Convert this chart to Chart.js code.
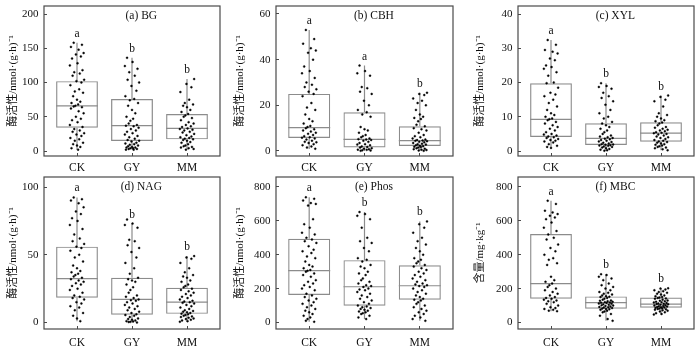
<!DOCTYPE html>
<html>
<head>
<meta charset="utf-8">
<script src="https://cdn.jsdelivr.net/npm/chart.js@4.4.0/dist/chart.umd.min.js"></script>
<style>
  body { margin: 0; background: #fff; width: 700px; height: 349px; position: relative; overflow: hidden; }
  canvas { position: absolute; }
</style>
</head>
<body>
<canvas id="pa" width="230" height="172" style="left:0;top:0"></canvas>
<canvas id="pb" width="230" height="172" style="left:230px;top:0"></canvas>
<canvas id="pc" width="240" height="172" style="left:460px;top:0"></canvas>
<canvas id="pd" width="230" height="179" style="left:0;top:170px"></canvas>
<canvas id="pe" width="230" height="179" style="left:230px;top:170px"></canvas>
<canvas id="pf" width="240" height="179" style="left:460px;top:170px"></canvas>
<script>
// Box plots with jittered samples, six panels

const GROUPS = ['CK', 'GY', 'MM'];

// (a) BG
const bgCK = [158, 155, 152, 148, 143, 141, 138, 135, 128, 125, 118, 115, 113, 110, 104, 102, 100, 96, 90, 87, 85, 80, 75, 72, 70, 68, 66, 65, 64, 62, 58, 55, 50, 47, 45, 42, 38, 35, 32, 30, 28, 26, 24, 22, 19, 17, 15, 12, 10, 8, 6, 4, 2];
const bgGY = [136, 130, 124, 120, 115, 110, 104, 100, 95, 88, 80, 76, 74, 70, 66, 60, 55, 50, 47, 44, 40, 38, 37, 36, 34, 32, 30, 28, 26, 24, 22, 20, 18, 16, 15, 14, 12, 11, 10, 9, 8, 7, 6, 5, 5, 4, 4, 3, 3, 2, 2];
const bgMM = [105, 98, 93, 86, 75, 70, 68, 66, 64, 60, 57, 54, 52, 50, 48, 45, 42, 40, 38, 36, 35, 33, 32, 31, 30, 28, 27, 25, 23, 21, 20, 19, 18, 17, 16, 15, 13, 12, 10, 8, 7, 6, 5, 4, 3, 2];
const bgQ1 = [34, 14.5, 17];
const bgMed = [66, 37, 33];
const bgQ3 = [102, 76, 54];
const bgLo = [2, 2, 2];
const bgHi = [158, 136, 105];
const bgSig = ['a', 'b', 'b'];
const bgTicks = [0, 50, 100, 150, 200];

// (b) CBH
const cbhCK = [53, 49, 47, 45, 44, 43, 40, 37, 35, 34, 32, 30, 29, 28, 27, 26, 25, 24, 21, 19, 18, 16, 14, 13, 12, 11, 10.5, 10, 9.5, 9, 8.5, 8, 7.5, 7, 6.5, 6, 5.8, 5.5, 5, 4.5, 4, 3.8, 3.5, 3, 2.5, 2, 1.5, 1];
const cbhGY = [37.4, 35, 34, 33, 28, 27.5, 26, 25, 22, 20, 18, 17, 16, 15, 10.5, 9.5, 9, 8, 7, 6.5, 6, 5.5, 5.2, 5, 4.8, 4.5, 4, 3.5, 3, 2.8, 2.5, 2, 1.8, 1.5, 1.2, 1, 0.8, 0.6, 0.5, 0.3, 0.2, 0.1];
const cbhMM = [25.5, 25, 24.5, 23, 22, 21, 20, 18, 16, 15, 14.5, 14, 13, 11.5, 10.8, 10, 9.5, 9, 8, 7, 6.5, 6, 5.5, 5, 4.8, 4.6, 4.5, 4.3, 4, 3.8, 3.5, 3.2, 3, 2.8, 2.5, 2.3, 2.1, 1.9, 1.7, 1.5, 1.2, 1, 0.8, 0.6, 0.4, 0.2, 0.1];
const cbhQ1 = [5.7, 1.5, 2.2];
const cbhMed = [10.2, 5.1, 4.5];
const cbhQ3 = [25, 17, 10.8];
const cbhLo = [0.9, 0, 0.1];
const cbhHi = [53, 37.4, 25.5];
const cbhSig = ['a', 'a', 'b'];
const cbhTicks = [0, 20, 40, 60];

// (c) XYL
const xylCK = [32.4, 31, 29.5, 29, 28.5, 27, 26.5, 25, 24.5, 24, 23, 22, 20, 19.8, 18.5, 17, 16.5, 16, 15, 14, 13, 12, 11, 10.5, 10, 9.5, 9.3, 9, 8.5, 8, 7.5, 7, 6.5, 6, 5.5, 5, 4.8, 4.5, 4.2, 4, 3.8, 3.5, 3.2, 3, 2.8, 2.5, 2, 1.5, 1.2, 0.9];
const xylGY = [19.8, 19, 18.7, 18.2, 17, 16, 15.5, 14.5, 13.5, 12, 11, 10, 9.5, 8.5, 8, 7.5, 7, 6.5, 6, 5.5, 5, 4.5, 4.2, 4, 3.8, 3.6, 3.4, 3.2, 3, 2.8, 2.6, 2.4, 2.2, 2, 1.9, 1.8, 1.7, 1.6, 1.5, 1.3, 1.2, 1, 0.8, 0.6, 0.4, 0.2, 0.1];
const xylMM = [16.2, 15.8, 15, 14.5, 13, 11, 10.5, 10, 9.5, 9, 8.7, 8.3, 8, 7.5, 7, 6.8, 6.5, 6.2, 6, 5.8, 5.5, 5.3, 5.2, 5, 4.8, 4.5, 4.2, 4, 3.8, 3.5, 3.2, 3, 2.8, 2.6, 2.4, 2.2, 2, 1.8, 1.6, 1.4, 1.2, 1, 0.8, 0.5, 0.2];
const xylQ1 = [4.1, 1.75, 2.7];
const xylMed = [9.25, 3.7, 5.2];
const xylQ3 = [19.8, 8.1, 8.4];
const xylLo = [0.9, 0.1, 0.2];
const xylHi = [32.4, 19.8, 16.2];
const xylSig = ['a', 'b', 'b'];
const xylTicks = [0, 10, 20, 30, 40];

// (d) NAG
const nagCK = [92.3, 91, 90, 88, 85, 82, 80, 77, 75, 72, 69, 65, 62, 60, 58, 56, 55, 53, 50, 48, 45, 42, 40, 38, 37, 36, 35, 34, 33, 32, 31, 30, 29, 28, 27, 25, 24, 22, 20, 19, 18, 17, 15, 14, 12, 11, 9, 7, 5, 3, 1];
const nagGY = [76, 73, 72, 70, 61, 60, 57, 55, 52, 48, 44, 40, 36, 33, 32, 31, 30, 28, 26, 24, 22, 20, 19, 18, 17, 16.5, 16, 15, 14, 13, 12, 11, 10, 9, 8, 7, 6, 5.5, 5, 4, 3, 2.5, 2, 1.5, 1, 0.8, 0.5, 0.3, 0];
const nagMM = [49, 48, 47, 44, 40, 37, 35, 34, 33, 31, 30, 28, 27, 26, 25, 24, 23, 22, 21, 20, 19, 18, 17, 16, 15.5, 15, 14.5, 14, 13, 12, 11, 10, 9, 8.5, 8, 7.5, 7, 6.5, 6, 5.5, 5, 4.5, 4, 3.5, 3, 2.5, 2, 1.5, 1, 0.5];
const nagQ1 = [18.3, 5.7, 6.4];
const nagMed = [32.4, 17, 15];
const nagQ3 = [56, 33, 25.7];
const nagLo = [1, 0, 0.5];
const nagHi = [92.3, 73, 49];
const nagSig = ['a', 'b', 'b'];
const nagTicks = [0, 50, 100];

// (e) Phos
const phosCK = [739, 730, 720, 705, 700, 690, 610, 580, 560, 530, 520, 500, 490, 480, 470, 450, 430, 420, 410, 390, 380, 360, 340, 330, 320, 310, 305, 300, 290, 280, 270, 250, 240, 230, 220, 210, 200, 190, 170, 160, 150, 140, 130, 120, 110, 100, 90, 80, 70, 60, 50, 40, 30, 20, 10, 4];
const phosGY = [652, 640, 630, 610, 560, 500, 480, 470, 440, 420, 380, 370, 360, 340, 330, 320, 300, 290, 280, 260, 250, 240, 230, 220, 215, 210, 200, 195, 190, 180, 170, 160, 150, 140, 130, 120, 110, 100, 95, 90, 85, 80, 75, 70, 65, 60, 55, 50, 40, 30, 20];
const phosMM = [597, 580, 560, 530, 500, 480, 460, 440, 420, 400, 380, 370, 360, 350, 340, 330, 320, 310, 300, 290, 280, 270, 260, 250, 240, 230, 225, 220, 215, 210, 200, 190, 180, 170, 160, 150, 140, 135, 130, 120, 110, 100, 90, 80, 70, 60, 50, 40, 30, 20, 10];
const phosQ1 = [162, 99, 134];
const phosMed = [306, 211, 217];
const phosQ3 = [494, 368, 338];
const phosLo = [4, 20, 10];
const phosHi = [739, 652, 597];
const phosSig = ['a', 'b', 'b'];
const phosTicks = [0, 200, 400, 600, 800];

// (f) MBC
const mbcCK = [719, 700, 660, 650, 640, 630, 620, 610, 590, 560, 540, 520, 500, 490, 460, 440, 420, 400, 380, 370, 350, 340, 270, 250, 240, 230, 220, 210, 200, 190, 180, 170, 160, 150, 145, 140, 135, 130, 125, 120, 110, 100, 90, 85, 80, 75, 70, 67];
const mbcGY = [285, 280, 270, 260, 250, 230, 220, 210, 200, 190, 180, 175, 170, 165, 160, 155, 152, 150, 145, 140, 135, 130, 128, 125, 122, 120, 118, 117, 115, 112, 110, 108, 105, 102, 100, 98, 95, 92, 90, 88, 85, 82, 80, 78, 75, 70, 65, 60, 50, 40, 20, 10];
const mbcMM = [202, 200, 195, 190, 185, 180, 175, 170, 165, 160, 155, 150, 148, 145, 142, 140, 135, 130, 128, 125, 122, 120, 118, 115, 112, 110, 109, 108, 105, 102, 100, 98, 96, 94, 92, 90, 88, 86, 84, 82, 80, 78, 75, 72, 70, 65, 60, 55, 50, 47];
const mbcQ1 = [140, 81, 87];
const mbcMed = [229, 117, 109];
const mbcQ3 = [522, 154, 148];
const mbcLo = [67, 10, 47];
const mbcHi = [719, 285, 202];
const mbcSig = ['a', 'b', 'b'];
const mbcTicks = [0, 200, 400, 600, 800];

const ENZ_TITLE = '酶活性/nmol·(g·h)⁻¹';
const MBC_TITLE = '含量/mg·kg⁻¹';

// horizontal scatter of the dots around each box centre
const JITTER = [-0.06, 0.09, -0.11, 0.03, 0.12, -0.02, 0.07, -0.09, 0.01, -0.13, 0.1, -0.05, 0.05, -0.08, 0.13, -0.01, 0.08, -0.12, 0.04, -0.04, 0.11, -0.07, 0.0, 0.06, -0.1, 0.02, -0.03];

const SERIF = "'Liberation Serif', 'Times New Roman', 'Noto Sans CJK SC', serif";
const BOX_COLOR = '#8c8c8c';
const FRAME_COLOR = '#4a4a4a';

const panels = [
    { id: 'pa', title: '(a) BG', yTitle: ENZ_TITLE, pts: [bgCK, bgGY, bgMM], q1: bgQ1, med: bgMed, q3: bgQ3, lo: bgLo, hi: bgHi, sig: bgSig, ticks: bgTicks, min: -7.3, max: 211.7 },
    { id: 'pb', title: '(b) CBH', yTitle: ENZ_TITLE, pts: [cbhCK, cbhGY, cbhMM], q1: cbhQ1, med: cbhMed, q3: cbhQ3, lo: cbhLo, hi: cbhHi, sig: cbhSig, ticks: cbhTicks, min: -2.19, max: 63.5 },
    { id: 'pc', title: '(c) XYL', yTitle: ENZ_TITLE, pts: [xylCK, xylGY, xylMM], q1: xylQ1, med: xylMed, q3: xylQ3, lo: xylLo, hi: xylHi, sig: xylSig, ticks: xylTicks, min: -1.46, max: 42.34 },
    { id: 'pd', title: '(d) NAG', yTitle: ENZ_TITLE, pts: [nagCK, nagGY, nagMM], q1: nagQ1, med: nagMed, q3: nagQ3, lo: nagLo, hi: nagHi, sig: nagSig, ticks: nagTicks, min: -4.8, max: 107.4 },
    { id: 'pe', title: '(e) Phos', yTitle: ENZ_TITLE, pts: [phosCK, phosGY, phosMM], q1: phosQ1, med: phosMed, q3: phosQ3, lo: phosLo, hi: phosHi, sig: phosSig, ticks: phosTicks, min: -38.4, max: 859 },
    { id: 'pf', title: '(f) MBC', yTitle: MBC_TITLE, pts: [mbcCK, mbcGY, mbcMM], q1: mbcQ1, med: mbcMed, q3: mbcQ3, lo: mbcLo, hi: mbcHi, sig: mbcSig, ticks: mbcTicks, min: -38.4, max: 859 }
];

// per panel: y axis width, right pad, top pad, x axis height, y-title offset, x label pad
const layouts = [
    [44, 10, 6, 16, 6.4, 8],
    [46, 7, 6, 16, 3.4, 8],
    [58, 6, 6, 16, 13.4, 8],
    [44, 10, 7, 20, 6.4, 10],
    [46, 7, 7, 20, 3.4, 10],
    [58, 6, 7, 20, 13.4, 10]
];

function extrasPlugin(p) {
    return {
        id: 'boxExtras',
        beforeDatasetsDraw(chart) {
            const { ctx, scales: { x, y } } = chart;
            const bars = chart.getDatasetMeta(0).data;
            ctx.save();
            ctx.strokeStyle = BOX_COLOR;
            ctx.lineWidth = 1.2;
            GROUPS.forEach((g, i) => {
                const cx = x.getPixelForValue(i);
                const b = bars[i].getProps(['x', 'width'], true);
                const ym = y.getPixelForValue(p.med[i]);
                ctx.beginPath();
                ctx.moveTo(cx, y.getPixelForValue(p.q3[i]));
                ctx.lineTo(cx, y.getPixelForValue(p.hi[i]));
                ctx.moveTo(cx, y.getPixelForValue(p.q1[i]));
                ctx.lineTo(cx, y.getPixelForValue(p.lo[i]));
                ctx.moveTo(b.x - b.width / 2, ym);
                ctx.lineTo(b.x + b.width / 2, ym);
                ctx.stroke();
            });
            ctx.restore();
        },
        afterDraw(chart) {
            const { ctx, chartArea: a, scales: { x, y } } = chart;
            ctx.save();
            ctx.strokeStyle = FRAME_COLOR;
            ctx.lineWidth = 1.2;
            ctx.strokeRect(a.left, a.top, a.right - a.left, a.bottom - a.top);
            ctx.fillStyle = '#111';
            ctx.font = '11.5px ' + SERIF;
            ctx.textAlign = 'center';
            ctx.textBaseline = 'middle';
            GROUPS.forEach((g, i) => {
                ctx.fillText(p.sig[i], x.getPixelForValue(i), y.getPixelForValue(p.hi[i]) - 9);
            });
            ctx.fillText(p.title, x.getPixelForValue(1.17), a.top + 10);
            ctx.restore();
        }
    };
}

Chart.defaults.font.family = SERIF;
Chart.defaults.color = '#111';

panels.forEach((p, k) => {
    const [yw, padR, padT, xh, titlePad, xPad] = layouts[k];
    const boxData = GROUPS.map((g, i) => ({ x: i, y: [p.q1[i], p.q3[i]] }));
    const dots = p.pts.flatMap((arr, g) =>
        arr.map((v, i) => ({ x: g + JITTER[(i + g * 7) % JITTER.length], y: v })));

    new Chart(document.getElementById(p.id), {
        type: 'bar',
        data: {
            datasets: [
                {
                    type: 'bar',
                    data: boxData,
                    backgroundColor: 'rgba(0,0,0,0)',
                    borderColor: BOX_COLOR,
                    borderWidth: 1.2,
                    borderSkipped: false,
                    barPercentage: 0.76,
                    categoryPercentage: 1,
                    order: 2
                },
                {
                    type: 'scatter',
                    data: dots,
                    pointRadius: 1,
                    pointBackgroundColor: '#000',
                    pointBorderColor: '#000',
                    pointBorderWidth: 0.4,
                    order: 1
                }
            ]
        },
        options: {
            responsive: false,
            animation: false,
            layout: { padding: { left: 0, right: padR, top: padT, bottom: 0 } },
            plugins: { legend: { display: false }, tooltip: { enabled: false } },
            scales: {
                x: {
                    type: 'linear',
                    min: -0.6,
                    max: 2.6,
                    offset: false,
                    afterFit: s => { s.height = xh; s.paddingLeft = 0; s.paddingRight = 0; },
                    afterBuildTicks: s => { s.ticks = GROUPS.map((g, i) => ({ value: i })); },
                    grid: { display: true, drawOnChartArea: false, drawTicks: true, tickLength: -3, color: FRAME_COLOR, offset: false },
                    border: { display: false },
                    ticks: {
                        autoSkip: false,
                        maxRotation: 0,
                        padding: xPad,
                        font: { size: 11.5 },
                        color: '#111',
                        callback: v => GROUPS[v]
                    }
                },
                y: {
                    type: 'linear',
                    min: p.min,
                    max: p.max,
                    afterFit: s => { s.width = yw; s.paddingTop = 0; s.paddingBottom = 0; },
                    afterBuildTicks: s => { s.ticks = p.ticks.map(v => ({ value: v })); },
                    grid: { display: true, drawOnChartArea: false, drawTicks: true, tickLength: -3, color: FRAME_COLOR },
                    border: { display: false },
                    ticks: { padding: 8.5, font: { size: 11 }, color: '#111' },
                    title: {
                        display: true,
                        text: p.yTitle,
                        font: { size: 11 },
                        color: '#111',
                        padding: { top: titlePad, bottom: 0 }
                    }
                }
            }
        },
        plugins: [extrasPlugin(p)]
    });
});
</script>
</body>
</html>
